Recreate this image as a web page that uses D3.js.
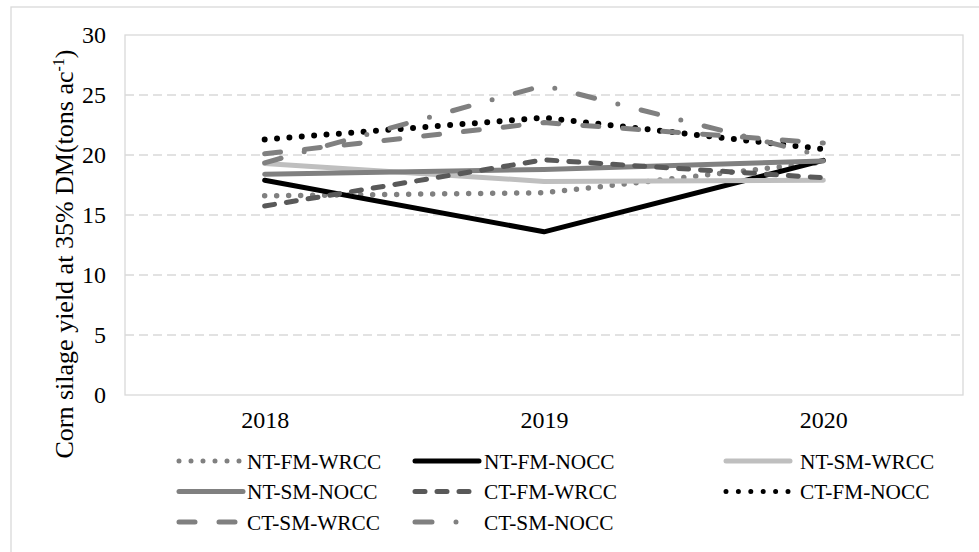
<!DOCTYPE html>
<html>
<head>
<meta charset="utf-8">
<script src="https://cdn.jsdelivr.net/npm/d3@7"></script>
<style>
  html, body { margin: 0; padding: 0; background: #fff; }
  svg { display: block; }
  text { font-family: "Liberation Serif", "Times New Roman", serif; fill: #000; }
</style>
</head>
<body>
<svg id="chart" width="979" height="552"></svg>
<script>
// ---- data ----
const years = ["2018", "2019", "2020"];
const seriesNames = ["NT-FM-WRCC", "NT-FM-NOCC", "NT-SM-WRCC", "NT-SM-NOCC",
                     "CT-FM-WRCC", "CT-FM-NOCC", "CT-SM-WRCC", "CT-SM-NOCC"];
const ntFmWrcc = [16.6, 16.85, 19.4];
const ntFmNocc = [17.9, 13.6, 19.55];
const ntSmWrcc = [19.3, 17.8, 17.9];
const ntSmNocc = [18.4, 18.8, 19.5];
const ctFmWrcc = [15.75, 19.6, 18.1];
const ctFmNocc = [21.3, 23.1, 20.5];
const ctSmWrcc = [20.1, 22.7, 21.0];
const ctSmNocc = [19.35, 25.8, 19.9];
const yTicks = [0, 5, 10, 15, 20, 25, 30];
const yTitle = "Corn silage yield at 35% DM(tons ac";

const seriesValues = [ntFmWrcc, ntFmNocc, ntSmWrcc, ntSmNocc, ctFmWrcc, ctFmNocc, ctSmWrcc, ctSmNocc];

// ---- styles ----
const styles = [
  { color: "#808080", width: 5.5, dash: "0 12" },
  { color: "#000000", width: 5,   dash: null },
  { color: "#bfbfbf", width: 5,   dash: null },
  { color: "#808080", width: 5,   dash: null },
  { color: "#595959", width: 5,   dash: "10 12" },
  { color: "#000000", width: 6,   dash: "0 12.4" },
  { color: "#808080", width: 5,   dash: "16 24" },
  { color: "#808080", width: 5,   dash: "17 24 0 24" }
];

const svg = d3.select("#chart");
const pLeft = 125, pRight = 963, pTop = 35, pBottom = 395;

// outer chart border
svg.append("rect").attr("x", 11).attr("y", 7).attr("width", 1100).attr("height", 700)
  .attr("fill", "none").attr("stroke", "#d9d9d9").attr("stroke-width", 1.3);

const x = d3.scalePoint().domain(years).range([pLeft, pRight]).padding(0.5);
const y = d3.scaleLinear().domain([0, 30]).range([pBottom, pTop]);

// gridlines
svg.append("g").selectAll("line").data(yTicks.filter(t => t > 0 && t < 30)).join("line")
  .attr("x1", pLeft).attr("x2", pRight)
  .attr("y1", d => y(d)).attr("y2", d => y(d))
  .attr("stroke", "#d9d9d9").attr("stroke-width", 1.3).attr("stroke-dasharray", "9 5");

// plot border
svg.append("rect").attr("x", pLeft).attr("y", pTop).attr("width", pRight - pLeft).attr("height", pBottom - pTop)
  .attr("fill", "none").attr("stroke", "#d9d9d9").attr("stroke-width", 1.3);

// y axis
const yAxis = d3.axisLeft(y).tickValues(yTicks).tickSize(0).tickPadding(19);
const gy = svg.append("g").attr("transform", `translate(${pLeft},0)`).call(yAxis);
gy.attr("font-family", null);
gy.select(".domain").remove();
gy.selectAll("text").style("font-size", "24px").style("font-family", "Liberation Serif").attr("fill", "#000");

// x axis
const xAxis = d3.axisBottom(x).tickSize(0).tickPadding(16);
const gx = svg.append("g").attr("transform", `translate(0,${pBottom})`).call(xAxis);
gx.attr("font-family", null);
gx.select(".domain").remove();
gx.selectAll("text").style("font-size", "24px").style("font-family", "Liberation Serif").attr("fill", "#000");

// y title
const yt = svg.append("text")
  .attr("transform", "translate(73,254) rotate(-90)")
  .attr("text-anchor", "middle")
  .style("font-size", "26px");
yt.append("tspan").text(yTitle);
yt.append("tspan").text("-1").attr("dy", -9).style("font-size", "16px");
yt.append("tspan").text(")").attr("dy", 9);

// lines
const line = d3.line().x((d, i) => x(years[i])).y(d => y(d));
svg.append("g").selectAll("path").data(seriesValues).join("path")
  .attr("d", d => line(d))
  .attr("fill", "none")
  .attr("stroke", (d, i) => styles[i].color)
  .attr("stroke-width", (d, i) => styles[i].width)
  .attr("stroke-dasharray", (d, i) => styles[i].dash)
  .attr("stroke-linecap", "round")
  .attr("stroke-linejoin", "round");

// legend
const colX = [177, 413, 724];
const textOff = [70, 71, 76];
const rowY = [461, 491.5, 522];
const lg = svg.append("g").selectAll("g").data(seriesNames).join("g")
  .attr("transform", (d, i) => `translate(${colX[i % 3]},${rowY[Math.floor(i / 3)]})`);
lg.append("line")
  .attr("x1", 2).attr("x2", 66).attr("y1", 0).attr("y2", 0)
  .attr("stroke", (d, i) => styles[i].color)
  .attr("stroke-width", (d, i) => Math.min(styles[i].width, 5))
  .attr("stroke-dasharray", (d, i) => styles[i].dash)
  .attr("stroke-linecap", "round");
lg.append("text").attr("x", (d, i) => textOff[i % 3]).attr("y", 7.5)
  .style("font-size", "21.3px")
  .text(d => d);
</script>
</body>
</html>
